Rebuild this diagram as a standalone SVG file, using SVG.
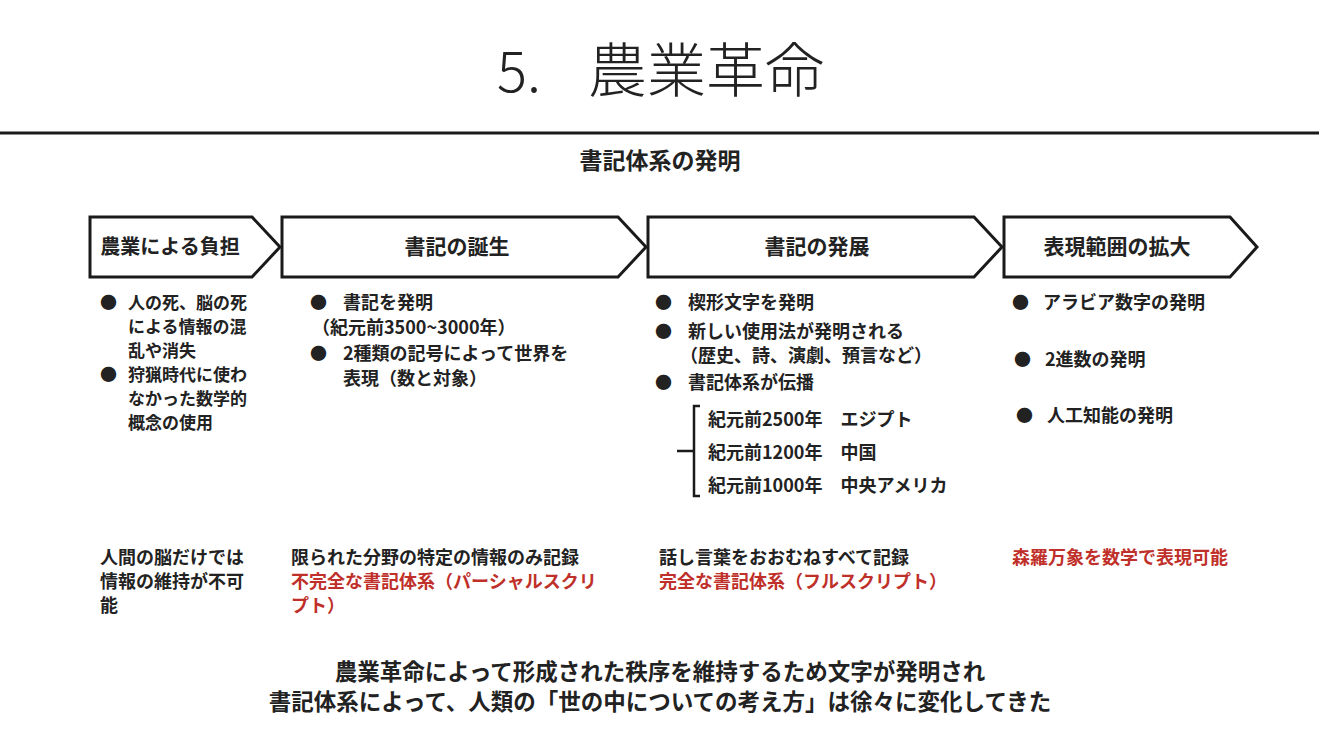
<svg xmlns="http://www.w3.org/2000/svg" width="1319" height="742" viewBox="0 0 1319 742">
<style>
text{font-family:"Noto Sans CJK JP","Liberation Sans",sans-serif;fill:#222}
.b{font-size:18px;font-weight:bold}
.s{font-size:17px}
.h{font-size:21px;font-weight:bold}
.r{fill:#c0302a}
.box{fill:#fff;stroke:#1a1a1a;stroke-width:3}
</style>
<rect width="1319" height="742" fill="#fff"/>
<text x="497" y="92" font-size="56" font-weight="300">5.</text>
<text x="588" y="92" font-size="59" font-weight="300">農業革命</text>
<line x1="0" y1="133" x2="1319" y2="133" stroke="#1a1a1a" stroke-width="3"/>
<text x="660" y="169" font-size="23" font-weight="bold" text-anchor="middle">書記体系の発明</text>
<g id="n1"><path class="box" d="M90,217H252L280,247L252,277H90Z"/><text x="170" y="254" class="h" font-size="20" text-anchor="middle" style="font-size:20px">農業による負担</text></g>
<g id="n2"><path class="box" d="M282,217H618L646,247L618,277H282Z"/><text x="457" y="254" class="h" text-anchor="middle">書記の誕生</text></g>
<g id="n3"><path class="box" d="M648,217H974L1002,247L974,277H648Z"/><text x="817" y="254" class="h" text-anchor="middle">書記の発展</text></g>
<g id="n4"><path class="box" d="M1004,217H1230L1257,247L1230,277H1004Z"/><text x="1117" y="254" class="h" text-anchor="middle">表現範囲の拡大</text></g>
<g id="connectors"/>
<g>
<text x="100" y="309" class="b s">●</text>
<text x="128" y="309" class="b s">人の死、脳の死</text>
<text x="128" y="333" class="b s">による情報の混</text>
<text x="128" y="357" class="b s">乱や消失</text>
<text x="100" y="381" class="b s">●</text>
<text x="128" y="381" class="b s">狩猟時代に使わ</text>
<text x="128" y="405" class="b s">なかった数学的</text>
<text x="128" y="429" class="b s">概念の使用</text>

<text x="310" y="309" class="b s">●</text>
<text x="343" y="309" class="b">書記を発明</text>
<text x="312" y="334" class="b">（紀元前3500~3000年）</text>
<text x="310" y="360" class="b s">●</text>
<text x="343" y="360" class="b">2種類の記号によって世界を</text>
<text x="343" y="385" class="b">表現（数と対象）</text>

<text x="655" y="309" class="b s">●</text>
<text x="688" y="309" class="b">楔形文字を発明</text>
<text x="655" y="338" class="b s">●</text>
<text x="688" y="338" class="b">新しい使用法が発明される</text>
<text x="680" y="362" class="b">（歴史、詩、演劇、預言など）</text>
<text x="655" y="389" class="b s">●</text>
<text x="688" y="389" class="b">書記体系が伝播</text>
<text x="708" y="426" class="b">紀元前2500年　エジプト</text>
<text x="708" y="459" class="b">紀元前1200年　中国</text>
<text x="708" y="492" class="b">紀元前1000年　中央アメリカ</text>

<text x="1012" y="309" class="b s">●</text>
<text x="1043" y="309" class="b">アラビア数字の発明</text>
<text x="1014" y="366" class="b s">●</text>
<text x="1045" y="366" class="b">2進数の発明</text>
<text x="1016" y="422" class="b s">●</text>
<text x="1047" y="422" class="b">人工知能の発明</text>

<text x="100" y="564" class="b">人間の脳だけでは</text>
<text x="100" y="588" class="b">情報の維持が不可</text>
<text x="100" y="612" class="b">能</text>
<text x="291" y="564" class="b">限られた分野の特定の情報のみ記録</text>
<text x="291" y="588" class="b r">不完全な書記体系（パーシャルスクリ</text>
<text x="291" y="612" class="b r">プト）</text>
<text x="659" y="564" class="b">話し言葉をおおむねすべて記録</text>
<text x="659" y="588" class="b r">完全な書記体系（フルスクリプト）</text>
<text x="1012" y="564" class="b r">森羅万象を数学で表現可能</text>
</g>
<path d="M700,406H694V496H700M694,451H677" fill="none" stroke="#1a1a1a" stroke-width="2.5"/>
<text x="660" y="680" font-size="22.5" font-weight="bold" text-anchor="middle">農業革命によって形成された秩序を維持するため文字が発明され</text>
<text x="660" y="710" font-size="22.5" font-weight="bold" text-anchor="middle">書記体系によって、人類の「世の中についての考え方」は徐々に変化してきた</text>
</svg>
